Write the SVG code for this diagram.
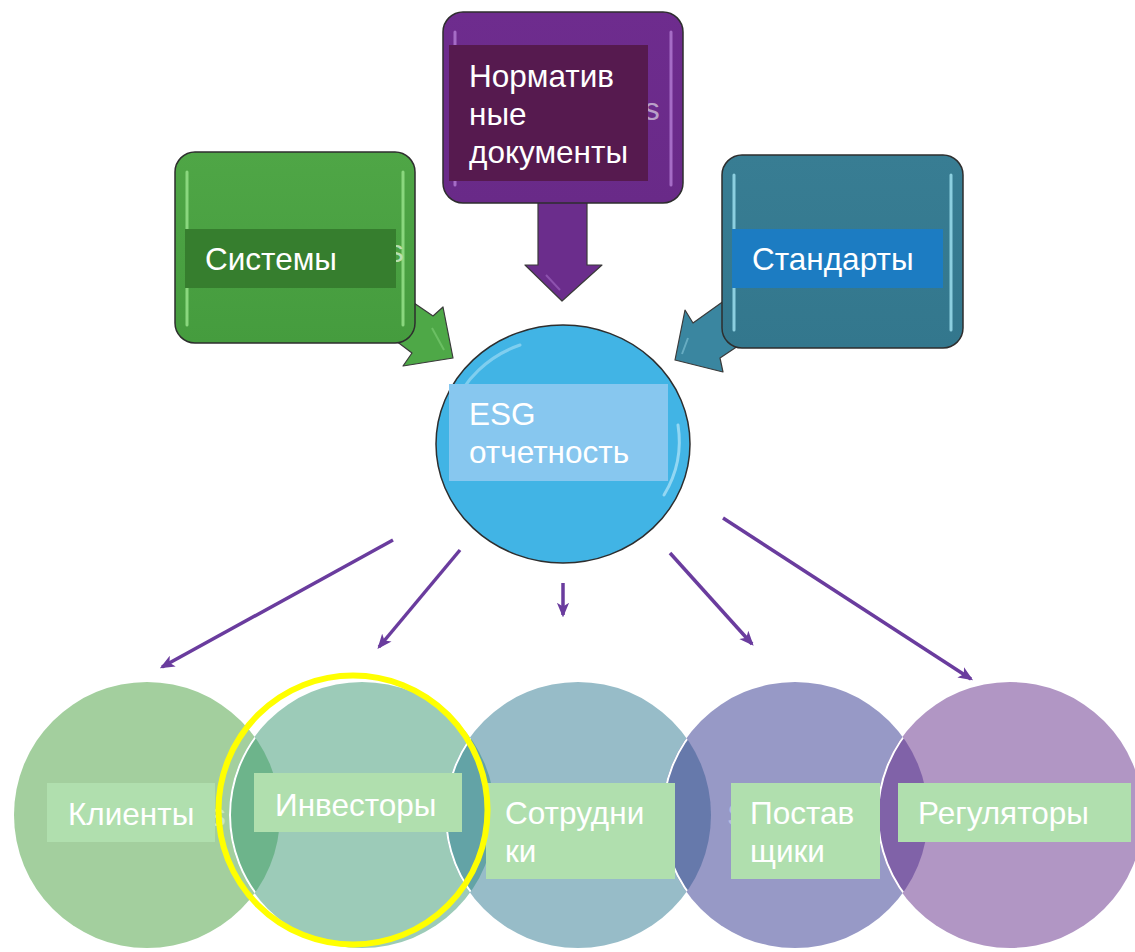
<svg xmlns="http://www.w3.org/2000/svg" width="1135" height="952" viewBox="0 0 1135 952">
<style>
  .lbl { font-family: "Liberation Sans", Arial, sans-serif; font-size: 31.5px; fill: #ffffff; }
  .frag { font-family: "Liberation Sans", Arial, sans-serif; font-size: 31.5px; }
  .box { stroke: #2e2e2e; stroke-width: 1.5; }
  .hl { fill: none; stroke-width: 3; stroke-linecap: round; }
  .conn { stroke: #6a3c9e; stroke-width: 3.5; fill: none; marker-end: url(#ah); }
  .blk { stroke: #3a3a3a; stroke-width: 1.2; stroke-linejoin: round; }
  .tag { fill: #b0dfae; }
</style>
<defs>
  <marker id="ah" viewBox="0 0 12 10" refX="10" refY="5" markerWidth="4.2" markerHeight="3.6" orient="auto" markerUnits="strokeWidth">
    <path d="M0,0 L12,5 L0,10 L3,5 z" fill="#6a3c9e"/>
  </marker>
  <linearGradient id="gGreen" x1="0" y1="0" x2="0" y2="1">
    <stop offset="0" stop-color="#4fa646"/><stop offset="1" stop-color="#459c3e"/>
  </linearGradient>
  <linearGradient id="gPurp" x1="0" y1="0" x2="0" y2="1">
    <stop offset="0" stop-color="#6e2c8e"/><stop offset="1" stop-color="#692a88"/>
  </linearGradient>
  <linearGradient id="gTeal" x1="0" y1="0" x2="0" y2="1">
    <stop offset="0" stop-color="#387d93"/><stop offset="1" stop-color="#33778d"/>
  </linearGradient>
  <clipPath id="c1"><circle cx="147" cy="815" r="133"/></clipPath>
  <clipPath id="c2"><circle cx="362" cy="815" r="133"/></clipPath>
  <clipPath id="c3"><circle cx="578" cy="815" r="133"/></clipPath>
  <clipPath id="c4"><circle cx="795" cy="815" r="133"/></clipPath>
</defs>
<rect width="1135" height="952" fill="#ffffff"/>

<!-- block arrows from source boxes -->
<g id="block-arrows">
  <polygon class="blk" fill="#4ea847" points="395,290 433,316 443,307 453,358 403,366 412,353 375,325"/>
  <polygon class="blk" fill="#6b2d8c" points="538,198 587,198 587,265 602,265 562,301 525,265 538,265"/>
  <polygon class="blk" fill="#3a86a0" points="685,310 693,323 742,288 762,330 720,358 723,372 675,360"/>
  <path d="M432,328 L444,350" stroke="#7fcf76" stroke-width="2" fill="none" opacity="0.6"/>
  <path d="M546,275 L560,290" stroke="#a46ac4" stroke-width="2" fill="none" opacity="0.6"/>
  <path d="M688,338 L682,354" stroke="#86c6d8" stroke-width="2" fill="none" opacity="0.6"/>
</g>

<g id="node-systems">
  <rect class="box" x="175" y="152" width="240" height="191" rx="20" fill="url(#gGreen)"/>
  <line class="hl" x1="187" y1="172" x2="187" y2="325" stroke="#8ad77e"/>
  <line class="hl" x1="403" y1="172" x2="403" y2="325" stroke="#8ad77e"/>
  <text class="frag" x="388" y="262" fill="#b9e0b2">s</text>
  <rect x="185" y="229" width="211" height="59" fill="#367e2e"/>
  <text class="lbl" x="205" y="270">Системы</text>
</g>

<g id="node-normative">
  <rect class="box" x="443" y="12" width="240" height="191" rx="20" fill="url(#gPurp)"/>
  <line class="hl" x1="455" y1="32" x2="455" y2="185" stroke="#a56cc6"/>
  <line class="hl" x1="671" y1="32" x2="671" y2="185" stroke="#a56cc6"/>
  <text class="frag" x="644" y="120" fill="#b9a0c8">s</text>
  <rect x="449" y="45" width="199" height="136" fill="#561a4f"/>
  <text class="lbl" x="469" y="87">Норматив</text>
  <text class="lbl" x="469" y="125">ные</text>
  <text class="lbl" x="469" y="163">документы</text>
</g>

<g id="node-standards">
  <rect class="box" x="722" y="155" width="241" height="193" rx="20" fill="url(#gTeal)"/>
  <line class="hl" x1="734" y1="175" x2="734" y2="330" stroke="#8ccfe0"/>
  <line class="hl" x1="951" y1="175" x2="951" y2="330" stroke="#8ccfe0"/>
  <rect x="732" y="229" width="211" height="59" fill="#1c7cc2"/>
  <text class="lbl" x="752" y="270">Стандарты</text>
</g>

<g id="node-esg">
  <ellipse cx="563" cy="444" rx="127" ry="119" fill="#41b4e5" stroke="#2e2e2e" stroke-width="1.5"/>
  <path d="M452,410 A114,108 0 0 1 520,345" stroke="#8fd4f1" stroke-width="3" fill="none" stroke-linecap="round" opacity="0.8"/>
  <path d="M678,425 A114,108 0 0 1 664,495" stroke="#a6e0f6" stroke-width="3" fill="none" stroke-linecap="round" opacity="0.8"/>
  <rect x="449" y="384" width="219" height="97" fill="#87c7ef"/>
  <text class="lbl" x="469" y="425">ESG</text>
  <text class="lbl" x="469" y="463">отчетность</text>
</g>

<g id="connectors">
  <line class="conn" x1="393" y1="540" x2="162" y2="667"/>
  <line class="conn" x1="460" y1="550" x2="379" y2="647"/>
  <line class="conn" x1="563" y1="583" x2="563" y2="615"/>
  <line class="conn" x1="670" y1="553" x2="752" y2="644"/>
  <line class="conn" x1="723" y1="518" x2="971" y2="679"/>
</g>

<g id="bottom-circles">
  <circle id="circ-clients" cx="147" cy="815" r="133" fill="#a3cf9e"/>
  <circle id="circ-investors" cx="362" cy="815" r="133" fill="#9ccbb8"/>
  <circle id="circ-staff" cx="578" cy="815" r="133" fill="#97bcc8"/>
  <circle id="circ-suppliers" cx="795" cy="815" r="133" fill="#9799c6"/>
  <circle id="circ-regulators" cx="1010" cy="815" r="133" fill="#b196c4"/>
  <circle cx="362" cy="815" r="133" fill="#6db48b" clip-path="url(#c1)"/>
  <circle cx="578" cy="815" r="133" fill="#63a3a6" clip-path="url(#c2)"/>
  <circle cx="795" cy="815" r="133" fill="#6679ab" clip-path="url(#c3)"/>
  <circle cx="1010" cy="815" r="133" fill="#8062a8" clip-path="url(#c4)"/>
  <circle cx="362" cy="815" r="132" fill="none" stroke="#ffffff" stroke-width="2" clip-path="url(#c1)"/>
  <circle cx="578" cy="815" r="132" fill="none" stroke="#ffffff" stroke-width="2" clip-path="url(#c2)"/>
  <circle cx="795" cy="815" r="132" fill="none" stroke="#ffffff" stroke-width="2" clip-path="url(#c3)"/>
  <circle cx="1010" cy="815" r="132" fill="none" stroke="#ffffff" stroke-width="2" clip-path="url(#c4)"/>
</g>

<g id="node-clients">
  <text class="frag" x="210" y="826" fill="#c6e6c3">s</text>
  <rect class="tag" x="47" y="783" width="168" height="59"/>
  <text class="lbl" x="68" y="825">Клиенты</text>
</g>

<g id="node-investors">
  <rect class="tag" x="254" y="773" width="208" height="59"/>
  <text class="lbl" x="275" y="816">Инвесторы</text>
</g>

<g id="node-staff">
  <rect class="tag" x="486" y="783" width="189" height="96"/>
  <text class="lbl" x="505" y="824">Сотрудни</text>
  <text class="lbl" x="505" y="862">ки</text>
</g>

<g id="node-suppliers">
  <text class="frag" x="727" y="826" fill="#b9bbe0">S</text>
  <rect class="tag" x="731" y="783" width="149" height="96"/>
  <text class="lbl" x="750" y="824">Постав</text>
  <text class="lbl" x="750" y="862">щики</text>
</g>

<g id="node-regulators">
  <rect class="tag" x="898" y="783" width="233" height="59"/>
  <text class="lbl" x="918" y="824">Регуляторы</text>
</g>

<g id="highlight">
  <circle cx="353" cy="810" r="134.5" fill="none" stroke="#ffff00" stroke-width="6"/>
</g>
</svg>
